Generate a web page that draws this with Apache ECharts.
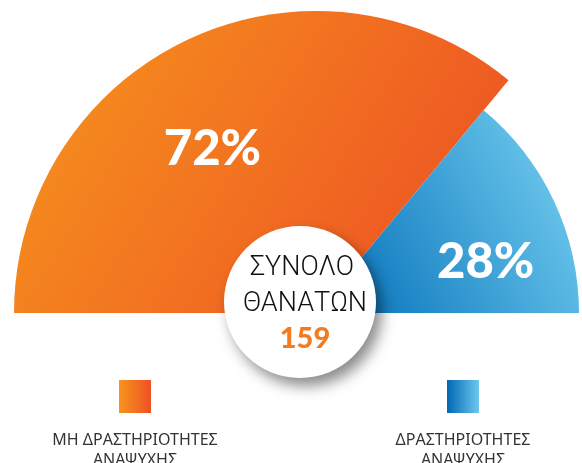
<!DOCTYPE html>
<html>
<head>
<meta charset="utf-8">
<script src="https://cdn.jsdelivr.net/npm/echarts@6/dist/echarts.min.js"></script>
<style>
  html, body { margin: 0; padding: 0; background: #ffffff; }
  #chart { width: 582px; height: 463px; }
</style>
</head>
<body>
<div id="chart"></div>
<script>
// Deaths split by activity type (percent of total)
const categories = ['ΜΗ ΔΡΑΣΤΗΡΙΟΤΗΤΕΣ\nΑΝΑΨΥΧΗΣ', 'ΔΡΑΣΤΗΡΙΟΤΗΤΕΣ\nΑΝΑΨΥΧΗΣ'];
const shares = [72, 28];
const totalDeaths = 159;
const centerTitle = ['ΣΥΝΟΛΟ', 'ΘΑΝΑΤΩΝ'];

const orangeFill = new echarts.graphic.LinearGradient(0, 0, 1, 1, [
  { offset: 0, color: '#F7961D' },
  { offset: 1, color: '#EC4B24' }
]);
const blueFill = new echarts.graphic.LinearGradient(0, 0.95, 1, 0.3, [
  { offset: 0, color: '#006DB8' },
  { offset: 1, color: '#70CBEE' }
]);
const orangeKey = new echarts.graphic.LinearGradient(0, 0, 1, 0, [
  { offset: 0, color: '#F7961D' },
  { offset: 1, color: '#EE5023' }
]);
const blueKey = new echarts.graphic.LinearGradient(0, 0, 1, 0, [
  { offset: 0, color: '#0068B4' },
  { offset: 1, color: '#6DC7EE' }
]);

const pieCenter = [316, 313];
const hidden = { color: 'transparent' };

// Each share sits in its own half-pie so the two slices can have different radii
function sliceSeries(idx, radius, fill, shift) {
  return {
    type: 'pie',
    center: pieCenter,
    radius: [0, radius],
    startAngle: 180,
    endAngle: 0,
    silent: true,
    animation: false,
    z: 2 + idx,
    label: {
      show: true,
      position: 'inside',
      formatter: p => p.value + '%',
      color: '#ffffff',
      fontFamily: 'Lato, "Open Sans", sans-serif',
      fontWeight: 900,
      fontSize: 49
    },
    labelLine: { show: false },
    labelLayout: shift,
    data: shares.map((v, i) => ({
      value: v,
      name: categories[i],
      itemStyle: i === idx ? { color: fill } : hidden,
      label: { show: i === idx }
    }))
  };
}

const keyFills = [orangeKey, blueKey];
const keyX = [119, 447];
const legendGraphics = [];
categories.forEach((name, i) => {
  legendGraphics.push({
    type: 'rect',
    z: 100,
    shape: { x: keyX[i], y: 380, width: 32, height: 33 },
    style: { fill: keyFills[i] }
  });
  legendGraphics.push({
    type: 'text',
    z: 100,
    x: keyX[i] + 16,
    y: 430,
    style: {
      text: name,
      fill: '#333333',
      font: '16px "Noto Sans", sans-serif',
      align: 'center',
      verticalAlign: 'top',
      lineHeight: 20
    }
  });
});

const chart = echarts.init(document.getElementById('chart'), null, { renderer: 'canvas' });
chart.setOption({
  animation: false,
  series: [
    sliceSeries(0, 302, orangeFill, { dx: -38, dy: -24 }),
    sliceSeries(1, 263, blueFill, { dx: 48, dy: 6 })
  ],
  graphic: [
    {
      type: 'circle',
      z: 100,
      shape: { cx: 300, cy: 302, r: 76 },
      style: {
        fill: '#ffffff',
        shadowBlur: 14,
        shadowColor: 'rgba(0,0,0,0.45)',
        shadowOffsetX: 6,
        shadowOffsetY: 8
      }
    },
    {
      type: 'text',
      z: 101,
      x: 302,
      y: 268,
      style: {
        text: centerTitle[0],
        fill: '#111111',
        font: '300 27px Roboto, "Noto Sans", sans-serif',
        align: 'center',
        verticalAlign: 'middle'
      }
    },
    {
      type: 'text',
      z: 101,
      x: 305,
      y: 304,
      style: {
        text: centerTitle[1],
        fill: '#111111',
        font: '300 27px Roboto, "Noto Sans", sans-serif',
        align: 'center',
        verticalAlign: 'middle'
      }
    },
    {
      type: 'text',
      z: 101,
      x: 305,
      y: 339,
      style: {
        text: String(totalDeaths),
        fill: '#F47B20',
        font: '900 29px Lato, "Open Sans", sans-serif',
        align: 'center',
        verticalAlign: 'middle'
      }
    }
  ].concat(legendGraphics)
});
</script>
</body>
</html>
